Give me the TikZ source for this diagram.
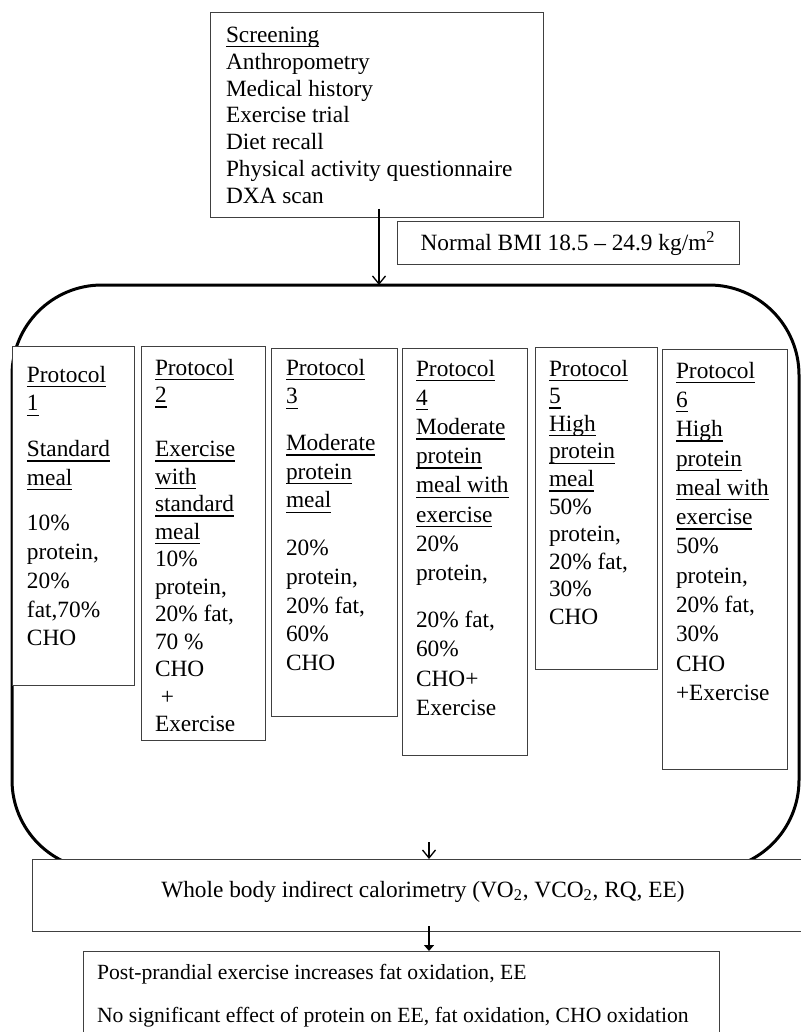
\documentclass[tikz,border=0pt]{standalone}
\usepackage{fontspec}
\setmainfont{Liberation Serif}
\usetikzlibrary{arrows.meta}
\newdimen\PX \PX=0.6pt
\newcommand\fs{\fontsize{14pt}{16.8pt}\selectfont}
\newcommand\uln[1]{\leavevmode\setbox0=\hbox{#1}\rlap{\rule[-5\PX]{\wd0}{0.8pt}}\box0}
% #1 width px, #2 height px, #3 left margin px, #4 baselineskip pt, #5 top space px, #6 text
\newcommand\pcell[6]{\parbox[c][#2\PX][t]{#1\PX}{\fontsize{14pt}{#4pt}\selectfont\raggedright\leftskip=#3\PX\relax\vspace*{#5\PX}#6\par}}
\tikzset{
  box/.style={draw=black!75, line width=0.6pt, fill=white, anchor=north west, inner sep=0pt, outer sep=0pt},
  group/.style={draw=black, line width=1.8pt, rounded corners=54pt, anchor=north west, inner sep=0pt, outer sep=0pt},
  openarrow/.style={line width=0.8pt, -{Straight Barb[length=4.8pt, width=7.8pt]}},
  filledarrow/.style={line width=0.8pt, -{Triangle[length=3.6pt, width=6pt]}},
  every node/.style={font=\fs}
}
\begin{document}
\begin{tikzpicture}[x=0.6pt, y=-0.6pt]
\useasboundingbox (0,0) rectangle (800,1032);

% group of protocols
\node[group, minimum width=787*0.6pt, minimum height=585*0.6pt] (grp) at (12,285) {};

% screening
\node[box] (scr) at (210,13) {\pcell{333}{205}{16}{16.08}{14}{%
\uln{Screening}\\
Anthropometry\\
Medical history\\
Exercise trial\\
Diet recall\\
Physical activity questionnaire\\
DXA scan}};

% BMI
\node[box, minimum width=342*0.6pt, minimum height=43*0.6pt] (bmi) at (397,222)
  {Normal BMI 18.5 – 24.9 kg/m\textsuperscript{2}};

% protocols
\node[box] (p1) at (12,346) {\pcell{122}{339}{15}{17.22}{20}{%
\uln{Protocol}\\
\uln{1}\\[17\PX]
\uln{Standard}\\
\uln{meal}\\[17\PX]
10\%\\
protein,\\
20\%\\
fat,70\%\\
CHO}};

\node[box] (p2) at (141,346) {\pcell{124}{394}{14}{16.5}{13}{%
\uln{Protocol}\\
\uln{2}\\[26.5\PX]
\uln{Exercise}\\
\uln{with}\\
\uln{standard}\\
\uln{meal}\\
10\%\\
protein,\\
20\% fat,\\
70 \%\\
CHO\\
\ +\\
Exercise}};

\node[box] (p3) at (271,348) {\pcell{126}{368}{15}{17.22}{11}{%
\uln{Protocol}\\
\uln{3}\\[18\PX]
\uln{Moderate}\\
\uln{protein}\\
\uln{meal}\\[19\PX]
20\%\\
protein,\\
20\% fat,\\
60\%\\
CHO}};

\node[box] (p4) at (402,348) {\pcell{125}{407}{14}{17.52}{12}{%
\uln{Protocol}\\
\uln{4}\\
\uln{Moderate}\\
\uln{protein}\\
\uln{meal with}\\
\uln{exercise}\\
20\%\\
protein,\\[18\PX]
20\% fat,\\
60\%\\
CHO+\\
Exercise}};

\node[box] (p5) at (535,347) {\pcell{122}{322}{14}{16.56}{13}{%
\uln{Protocol}\\
\uln{5}\\
\uln{High}\\
\uln{protein}\\
\uln{meal}\\
50\%\\
protein,\\
20\% fat,\\
30\%\\
CHO}};

\node[box] (p6) at (662,349) {\pcell{125}{420}{14}{17.58}{13}{%
\uln{Protocol}\\
\uln{6}\\
\uln{High}\\
\uln{protein}\\
\uln{meal with}\\
\uln{exercise}\\
50\%\\
protein,\\
20\% fat,\\
30\%\\
CHO\\
+Exercise}};

% calorimetry (right edge lies beyond the picture)
\node[box] (cal) at (32,859) {\parbox[c][72\PX][t]{778\PX}{\centering\leftskip=4\PX plus 1fil\relax\vspace*{21.8\PX}%
Whole body indirect calorimetry (VO\textsubscript{2}, VCO\textsubscript{2}, RQ, EE)\par}};

% results (bottom edge lies beyond the picture)
\node[box] (res) at (83,951) {\parbox[c][100\PX][t]{636\PX}{\fontsize{13pt}{16.8pt}\selectfont\raggedright\leftskip=14\PX\relax\vspace*{13.2\PX}%
Post-prandial exercise increases fat oxidation, EE\\[14.7\PX]
No significant effect of protein on EE, fat oxidation, CHO oxidation\par}};

% connectors
\coordinate (a1) at ([shift={(2.5,-9)}]scr.south);
\draw[openarrow] (a1) -- (a1 |- grp.north);
\coordinate (a2) at (429,842);
\draw[openarrow] (a2) -- (a2 |- cal.north);
\path (a2 |- cal.south) ++(0,-5) coordinate (a3);
\draw[filledarrow] (a3) -- (a2 |- res.north);
\end{tikzpicture}
\end{document}
